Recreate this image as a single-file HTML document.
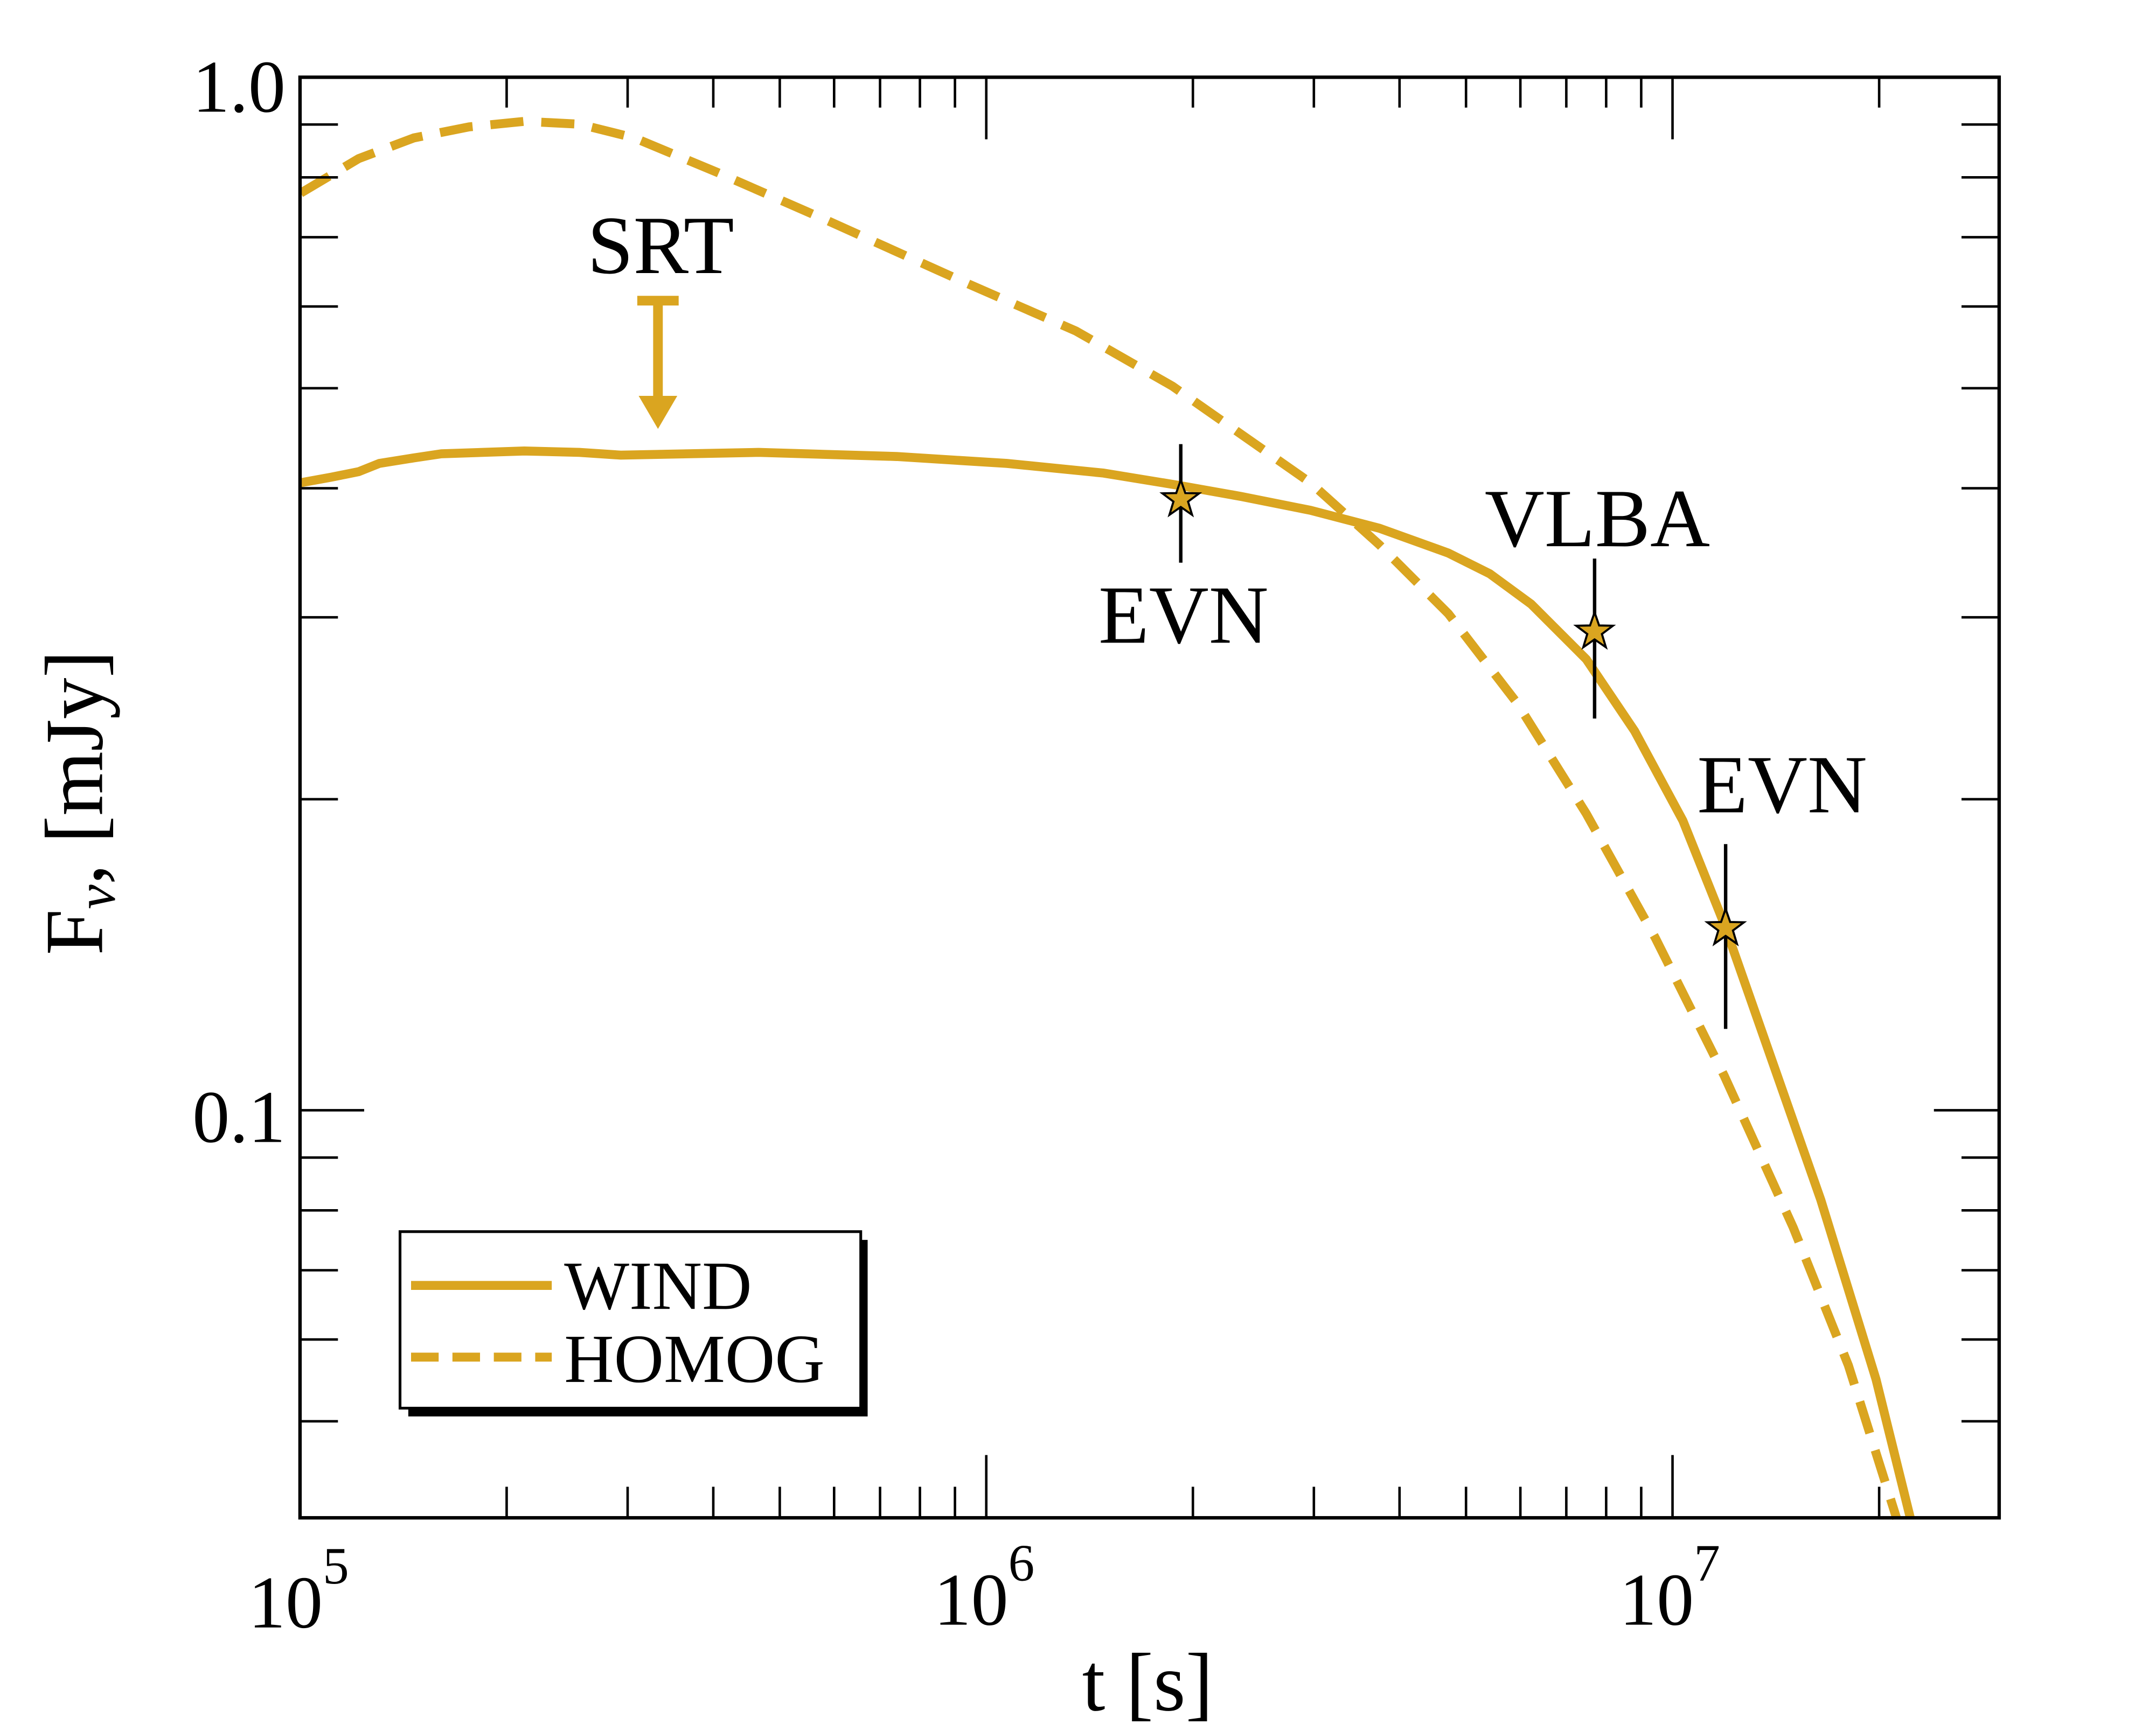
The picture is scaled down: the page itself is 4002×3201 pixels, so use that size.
<!DOCTYPE html>
<html><head><style>html,body{margin:0;padding:0;background:#fff}svg{display:block}</style></head><body>
<svg width="4002" height="3201" viewBox="0 0 1563 1250" preserveAspectRatio="none" xmlns="http://www.w3.org/2000/svg" font-family="Liberation Serif, serif">
<rect width="1563" height="1250" fill="#fff"/>
<g fill="none" stroke="#DAA520" stroke-width="6.5">
<polyline points="218,350 240,346 260,342 275,336 300,332 320,329 350,328 380,327 420,328 450,330 550,328 650,331 730,336 800,343 855,352 900,360 950,370 1000,383 1050,401 1080,416 1110,438 1150,478 1185,530 1220,595 1250,670 1285,770 1320,870 1360,1000 1385,1101"/>
<polyline stroke-dasharray="24,13" points="218,140 260,115 300,100 340,92 380,88 420,90 460,100 520,125 600,160 700,205 780,240 850,280 900,315 950,350 1000,395 1050,445 1100,510 1150,590 1200,680 1250,780 1300,890 1340,990 1375,1101"/>
</g>
<g stroke="#DAA520" stroke-width="7" fill="#DAA520">
<line x1="462" y1="218" x2="492" y2="218"/>
<line x1="477" y1="218" x2="477" y2="290"/>
<polygon points="463,287 491,287 477,311" stroke="none"/>
</g>
<g stroke="#000" stroke-width="2.5">
<line x1="856" y1="322" x2="856" y2="408"/>
<line x1="1156" y1="405" x2="1156" y2="521"/>
<line x1="1251" y1="612" x2="1251" y2="746"/>
</g>
<g fill="#DAA520" stroke="#000" stroke-width="1.5">
<polygon transform="translate(856,362)" points="0,-14 3.3,-4.5 13.3,-4.3 5.3,1.7 8.2,11.3 0,5.6 -8.2,11.3 -5.3,1.7 -13.3,-4.3 -3.3,-4.5"/>
<polygon transform="translate(1156,458)" points="0,-14 3.3,-4.5 13.3,-4.3 5.3,1.7 8.2,11.3 0,5.6 -8.2,11.3 -5.3,1.7 -13.3,-4.3 -3.3,-4.5"/>
<polygon transform="translate(1251,673)" points="0,-14 3.3,-4.5 13.3,-4.3 5.3,1.7 8.2,11.3 0,5.6 -8.2,11.3 -5.3,1.7 -13.3,-4.3 -3.3,-4.5"/>
</g>
<rect x="217.5" y="56" width="1231.8" height="1044.5" fill="none" stroke="#000" stroke-width="2.5"/>
<g stroke="#000" stroke-width="1.8">
<line x1="715" y1="1100" x2="715" y2="1055"/><line x1="1212.5" y1="1100" x2="1212.5" y2="1055"/>
<line x1="715" y1="56" x2="715" y2="101"/><line x1="1212.5" y1="56" x2="1212.5" y2="101"/>
<g id="mx">
<line x1="367.3" y1="1100" x2="367.3" y2="1078"/><line x1="455" y1="1100" x2="455" y2="1078"/><line x1="517.1" y1="1100" x2="517.1" y2="1078"/><line x1="565.3" y1="1100" x2="565.3" y2="1078"/><line x1="604.7" y1="1100" x2="604.7" y2="1078"/><line x1="638" y1="1100" x2="638" y2="1078"/><line x1="666.9" y1="1100" x2="666.9" y2="1078"/><line x1="692.3" y1="1100" x2="692.3" y2="1078"/>
<line x1="367.3" y1="56" x2="367.3" y2="78"/><line x1="455" y1="56" x2="455" y2="78"/><line x1="517.1" y1="56" x2="517.1" y2="78"/><line x1="565.3" y1="56" x2="565.3" y2="78"/><line x1="604.7" y1="56" x2="604.7" y2="78"/><line x1="638" y1="56" x2="638" y2="78"/><line x1="666.9" y1="56" x2="666.9" y2="78"/><line x1="692.3" y1="56" x2="692.3" y2="78"/>
</g>
<use href="#mx" x="497.5"/>
<line x1="1362.3" y1="1100" x2="1362.3" y2="1078"/><line x1="1362.3" y1="56" x2="1362.3" y2="78"/>
<line x1="217.5" y1="805" x2="264" y2="805"/><line x1="1449" y1="805" x2="1402" y2="805"/>
<g id="my">
<line x1="217.5" y1="90.3" x2="245" y2="90.3"/><line x1="217.5" y1="128.6" x2="245" y2="128.6"/><line x1="217.5" y1="172" x2="245" y2="172"/><line x1="217.5" y1="222.2" x2="245" y2="222.2"/><line x1="217.5" y1="281.5" x2="245" y2="281.5"/><line x1="217.5" y1="354" x2="245" y2="354"/><line x1="217.5" y1="447.6" x2="245" y2="447.6"/><line x1="217.5" y1="579.5" x2="245" y2="579.5"/>
<line x1="217.5" y1="839.3" x2="245" y2="839.3"/><line x1="217.5" y1="877.6" x2="245" y2="877.6"/><line x1="217.5" y1="921" x2="245" y2="921"/><line x1="217.5" y1="971.2" x2="245" y2="971.2"/><line x1="217.5" y1="1030.5" x2="245" y2="1030.5"/>
</g>
<use href="#my" transform="translate(1667,0) scale(-1,1)"/>
</g>
<g font-size="54" fill="#000">
<text x="207" y="81" text-anchor="end">1.0</text>
<text x="207" y="828" text-anchor="end">0.1</text>
<text x="180" y="1180">10<tspan font-size="38" dy="-32">5</tspan></text>
<text x="677" y="1178">10<tspan font-size="38" dy="-32">6</tspan></text>
<text x="1174" y="1178">10<tspan font-size="38" dy="-32">7</tspan></text>
</g>
<text x="832" y="1240" font-size="60" text-anchor="middle">t [s]</text>
<text transform="translate(74,582) rotate(-90)" font-size="60" text-anchor="middle">F<tspan font-size="40" dy="9" font-style="italic">ν</tspan><tspan dy="-9">, [mJy]</tspan></text>
<g font-size="60" text-anchor="middle">
<text x="479" y="198">SRT</text>
<text x="858" y="466">EVN</text>
<text x="1158" y="396">VLBA</text>
<text x="1292" y="589">EVN</text>
</g>
<rect x="296" y="899" width="333" height="128" fill="#000"/>
<rect x="290" y="893" width="334" height="128" fill="#fff" stroke="#000" stroke-width="2"/>
<line x1="298" y1="932" x2="400" y2="932" stroke="#DAA520" stroke-width="6.5"/>
<line x1="298" y1="984" x2="400" y2="984" stroke="#DAA520" stroke-width="6.5" stroke-dasharray="20,10"/>
<text x="409" y="949" font-size="50">WIND</text>
<text x="409" y="1002" font-size="50">HOMOG</text>
</svg>
</body></html>
